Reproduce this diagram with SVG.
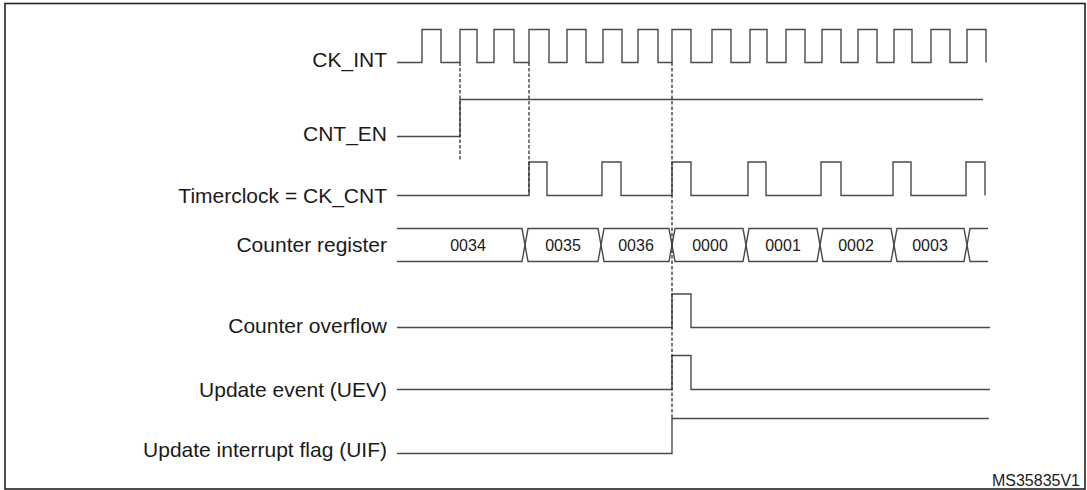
<svg xmlns="http://www.w3.org/2000/svg" width="1087" height="490" viewBox="0 0 1087 490">
<style>
.lbl{font-family:"Liberation Sans",Arial,sans-serif;font-size:21px;fill:#1a1a1a;text-anchor:end}
.val{font-family:"Liberation Sans",Arial,sans-serif;font-size:16px;fill:#1a1a1a;text-anchor:middle}
.wave{fill:none;stroke:#4a4a4a;stroke-width:1.4}
.guide{fill:none;stroke:#333333;stroke-width:1.3;stroke-dasharray:3.5 2}
</style>
<rect x="5" y="3.5" width="1080" height="485.5" fill="#ffffff" stroke="#222222" stroke-width="1.6"/>
<g id="ck_int">
<text class="lbl" x="387" y="67">CK_INT</text>
<path class="wave" d="M397,62.5 H422 V29.5 H441 V62.5 H460 V29.5 H477 V62.5 H494 V29.5 H514 V62.5 H529 V29.5 H549 V62.5 H567 V29.5 H586 V62.5 H603 V29.5 H622 V62.5 H638 V29.5 H658 V62.5 H672 V29.5 H691 V62.5 H712 V29.5 H731 V62.5 H750 V29.5 H767 V62.5 H786 V29.5 H805 V62.5 H822 V29.5 H841 V62.5 H858 V29.5 H877 V62.5 H894 V29.5 H912 V62.5 H931 V29.5 H950 V62.5 H967 V29.5 H986 V62.5"/>
</g>
<g id="cnt_en">
<text class="lbl" x="387" y="141">CNT_EN</text>
<path class="wave" d="M397,136.5 H460 V99.5 H983"/>
</g>
<g id="ck_cnt">
<text class="lbl" x="387" y="203">Timerclock = CK_CNT</text>
<path class="wave" d="M397,195.5 H529 V162 H547 V195.5 H602 V162 H621 V195.5 H672 V162 H691 V195.5 H748 V162 H766 V195.5 H821 V162 H841 V195.5 H893 V162 H911 V195.5 H966 V162 H985 V195.5"/>
</g>
<g id="counter_register">
<text class="lbl" x="387" y="252">Counter register</text>
<path class="wave" d="M397,228.5 H522 L525,245 L522,261.5 H397"/>
<path class="wave" d="M525,245 L528,228.5 H598 L601,245 L598,261.5 H528 Z"/>
<path class="wave" d="M601,245 L604,228.5 H669 L672,245 L669,261.5 H604 Z"/>
<path class="wave" d="M672,245 L675,228.5 H743 L746,245 L743,261.5 H675 Z"/>
<path class="wave" d="M746,245 L749,228.5 H817 L820,245 L817,261.5 H749 Z"/>
<path class="wave" d="M820,245 L823,228.5 H891 L894,245 L891,261.5 H823 Z"/>
<path class="wave" d="M894,245 L897,228.5 H964 L967,245 L964,261.5 H897 Z"/>
<path class="wave" d="M988,228.5 H970 L967,245 L970,261.5 H988"/>
<text class="val" x="468" y="251">0034</text>
<text class="val" x="563" y="251">0035</text>
<text class="val" x="636" y="251">0036</text>
<text class="val" x="710" y="251">0000</text>
<text class="val" x="783" y="251">0001</text>
<text class="val" x="856" y="251">0002</text>
<text class="val" x="930" y="251">0003</text>
</g>
<g id="counter_overflow">
<text class="lbl" x="387" y="333">Counter overflow</text>
<path class="wave" d="M397,327.5 H672 V294 H691 V327.5 H990"/>
</g>
<g id="uev">
<text class="lbl" x="387" y="396.5">Update event (UEV)</text>
<path class="wave" d="M397,389.5 H672 V355.5 H691 V389.5 H990"/>
</g>
<g id="uif">
<text class="lbl" x="387" y="456.5">Update interrupt flag (UIF)</text>
<path class="wave" d="M397,453.5 H672 V418.5 H989"/>
</g>
<g id="connectors">
<path class="guide" d="M460,62.5 V160"/>
<path class="guide" d="M529,62.5 V195"/>
<path class="guide" d="M672,62.5 V418.5"/>
</g>
<text x="1080" y="486" style="font-family:'Liberation Sans',Arial,sans-serif;font-size:16px;fill:#1a1a1a;text-anchor:end">MS35835V1</text>
</svg>
